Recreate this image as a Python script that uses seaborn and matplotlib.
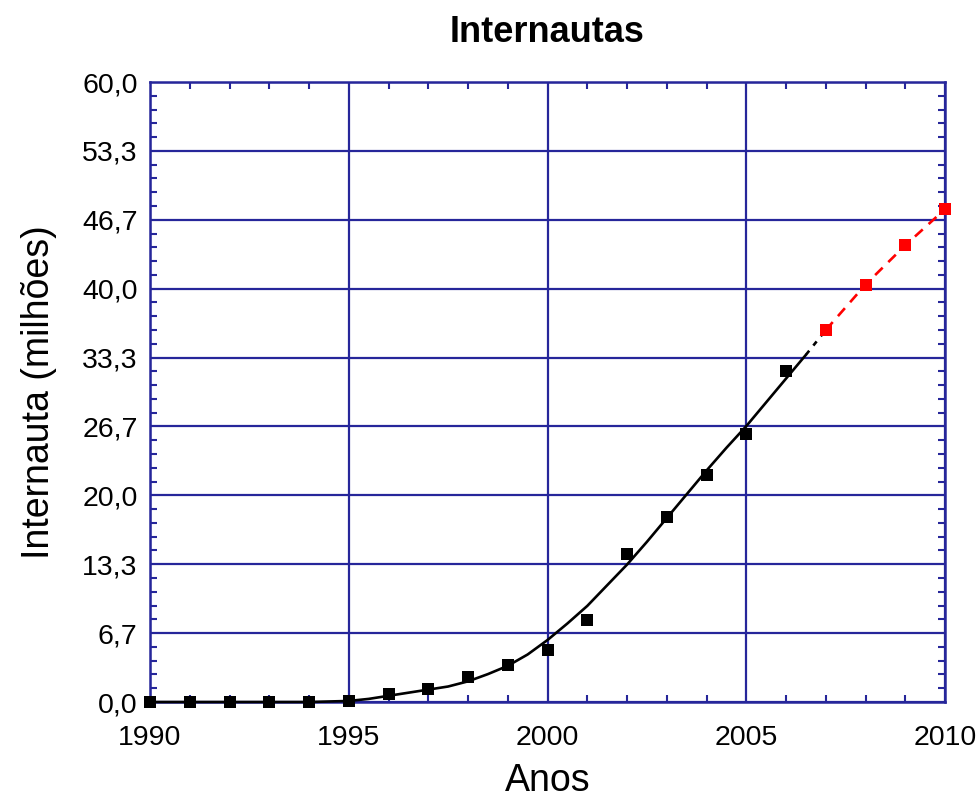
import numpy as np
import pandas as pd
import matplotlib
matplotlib.use("Agg")
import matplotlib.pyplot as plt
import seaborn as sns

# ---- data ----
years_obs = [1990, 1991, 1992, 1993, 1994, 1995, 1996, 1997, 1998, 1999,
             2000, 2001, 2002, 2003, 2004, 2005, 2006]
users_obs = [0.0, 0.0, 0.0, 0.0, 0.0, 0.1, 0.8, 1.3, 2.4, 3.6,
             5.0, 7.9, 14.3, 17.9, 22.0, 25.9, 32.0]

years_proj = [2007, 2008, 2009, 2010]
users_proj = [36.0, 40.4, 44.2, 47.7]

# fitted curve
curve_years = [1990, 1991, 1992, 1993, 1994, 1995, 1995.5, 1996, 1996.5, 1997,
               1997.5, 1998, 1998.5, 1999, 1999.5, 2000, 2000.5, 2001, 2001.5,
               2002, 2002.5, 2003, 2003.5, 2004, 2004.5, 2005, 2005.5, 2006,
               2006.5]
curve_vals = [0.0, 0.0, 0.0, 0.0, 0.0, 0.1, 0.3, 0.6, 0.9, 1.2,
              1.5, 2.0, 2.7, 3.5, 4.6, 6.0, 7.6, 9.3, 11.3,
              13.3, 15.5, 17.8, 20.1, 22.4, 24.6, 26.7, 29.0, 31.3,
              33.6]
curve_ext_years = [2006.5, 2007]
curve_ext_vals = [33.6, 36.0]

y_ticks = [0, 20/3, 40/3, 20, 80/3, 100/3, 40, 140/3, 160/3, 60]
y_labels = ["0,0", "6,7", "13,3", "20,0", "26,7", "33,3", "40,0", "46,7", "53,3", "60,0"]
x_ticks = [1990, 1995, 2000, 2005, 2010]
x_labels = ["1990", "1995", "2000", "2005", "2010"]

title = "Internautas"
xlabel = "Anos"
ylabel = "Internauta (milhões)"

# ---- style ----
sns.set_theme(style="white")
plt.rcParams["font.family"] = ["Liberation Sans", "DejaVu Sans"]
plt.rcParams["text.color"] = "black"
plt.rcParams["axes.labelcolor"] = "black"

navy = "#26269a"

fig = plt.figure(figsize=(9.78, 7.98), dpi=100)
ax = fig.add_axes([0.1534, 0.1203, 0.8129, 0.7769])

df_curve = pd.DataFrame({"x": curve_years, "y": curve_vals})
df_ext = pd.DataFrame({"x": curve_ext_years, "y": curve_ext_vals})
df_obs = pd.DataFrame({"x": years_obs, "y": users_obs})
df_proj = pd.DataFrame({"x": years_proj, "y": users_proj})

ax.set_axisbelow(True)
ax.grid(True, which="major", color=navy, linewidth=1.6)

sns.lineplot(data=df_curve, x="x", y="y", ax=ax, color="black", linewidth=1.9,
             sort=False, zorder=3, clip_on=False)
sns.lineplot(data=df_ext, x="x", y="y", ax=ax, color="black", linewidth=1.9,
             linestyle=(0, (2, 2.5)), sort=False, zorder=3)
sns.lineplot(data=df_proj, x="x", y="y", ax=ax, color="#ff0000", linewidth=1.9,
             linestyle=(0, (4, 3)), marker="s", markersize=9, markeredgewidth=0,
             sort=False, zorder=4, clip_on=False)
ax.plot(df_obs["x"], df_obs["y"], linestyle="none", marker="s", markersize=9,
        color="black", markeredgewidth=0, zorder=5, clip_on=False)

ax.set_xlim(1990, 2010)
ax.set_ylim(0, 60)
ax.set_xticks(x_ticks)
ax.set_xticklabels(x_labels)
ax.set_yticks(y_ticks)
ax.set_yticklabels(y_labels)
ax.set_xticks(np.arange(1990, 2011, 1), minor=True)
ax.set_yticks(np.linspace(0, 60, 46), minor=True)

ax.tick_params(axis="both", which="major", direction="in", length=0,
               labelsize=20.5, colors="black")
ax.tick_params(axis="x", which="major", pad=16.5)
ax.tick_params(axis="y", which="major", pad=9)
ax.tick_params(axis="both", which="minor", direction="in", length=5,
               width=1.5, color=navy, top=True, right=True, bottom=True, left=True)

for s in ax.spines.values():
    s.set_color(navy)
    s.set_linewidth(1.8)
    s.set_visible(True)

ax.set_title(title, fontsize=26, fontweight="bold", pad=29, color="black")
ax.set_xlabel(xlabel, fontsize=27, labelpad=9)
ax.set_ylabel(ylabel, fontsize=27, labelpad=18)

fig.savefig("out.png", dpi=100)
